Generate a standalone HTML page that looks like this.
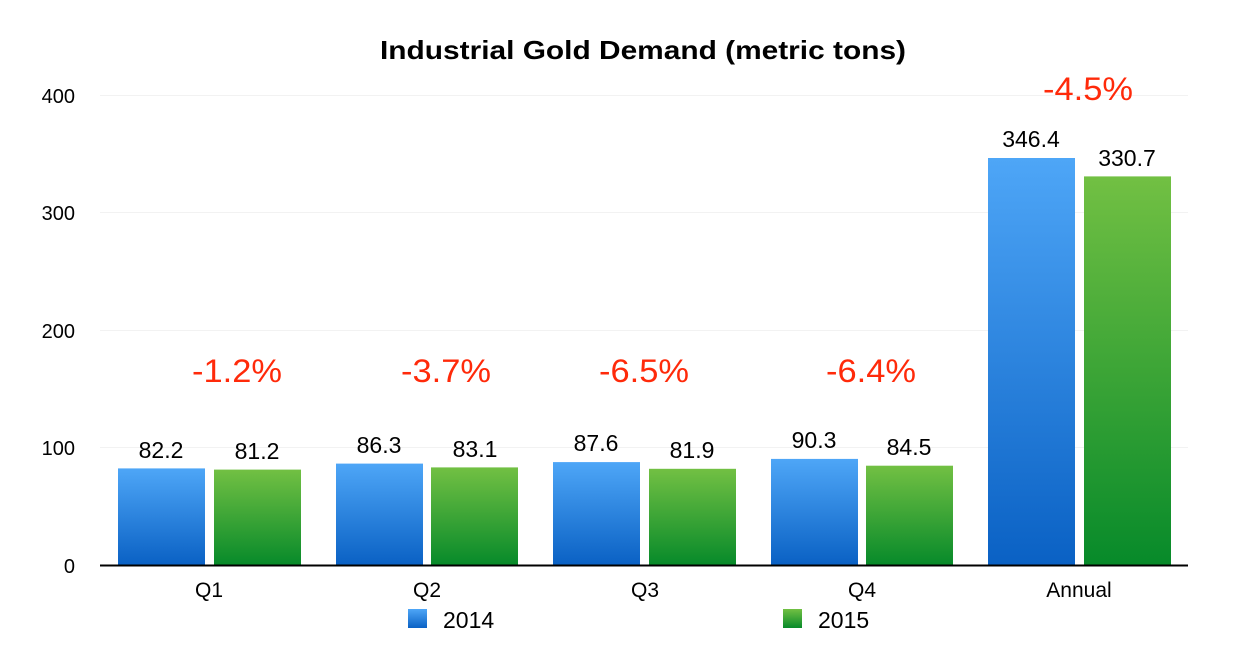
<!DOCTYPE html>
<html><head><meta charset="utf-8"><style>body{margin:0;background:#fff}</style></head><body>
<svg width="1240" height="650" viewBox="0 0 1240 650" xmlns="http://www.w3.org/2000/svg" font-family="Liberation Sans, sans-serif">
<defs>
<linearGradient id="b" x1="0" y1="0" x2="0" y2="1"><stop offset="0" stop-color="#4ea6f7"/><stop offset="1" stop-color="#0a61c4"/></linearGradient>
<linearGradient id="g" x1="0" y1="0" x2="0" y2="1"><stop offset="0" stop-color="#72c043"/><stop offset="1" stop-color="#078a2a"/></linearGradient>
</defs>
<text x="380" y="59" font-size="26" font-weight="bold" textLength="526" lengthAdjust="spacingAndGlyphs">Industrial Gold Demand (metric tons)</text>
<g stroke="#f2f2f2" stroke-width="1">
<line x1="100" x2="1188" y1="95.5" y2="95.5"/><line x1="100" x2="1188" y1="212.5" y2="212.5"/><line x1="100" x2="1188" y1="330.5" y2="330.5"/><line x1="100" x2="1188" y1="447.5" y2="447.5"/>
</g>
<g font-size="20" text-anchor="end">
<text x="75" y="103">400</text><text x="75" y="220">300</text><text x="75" y="338">200</text><text x="75" y="455">100</text><text x="75" y="573">0</text>
</g>
<g>
<rect x="118" y="468.4" width="87" height="96.6" fill="url(#b)"/>
<rect x="214" y="469.6" width="87" height="95.4" fill="url(#g)"/>
<rect x="336" y="463.6" width="87" height="101.4" fill="url(#b)"/>
<rect x="431" y="467.4" width="87" height="97.6" fill="url(#g)"/>
<rect x="553" y="462.1" width="87" height="102.9" fill="url(#b)"/>
<rect x="649" y="468.8" width="87" height="96.2" fill="url(#g)"/>
<rect x="771" y="458.9" width="87" height="106.1" fill="url(#b)"/>
<rect x="866" y="465.7" width="87" height="99.3" fill="url(#g)"/>
<rect x="988" y="158" width="87" height="407" fill="url(#b)"/>
<rect x="1084" y="176.4" width="87" height="388.6" fill="url(#g)"/>
</g>
<line x1="100" x2="1188" y1="565.5" y2="565.5" stroke="#000" stroke-width="2"/>
<g font-size="23" text-anchor="middle">
<text x="161" y="458">82.2</text><text x="257" y="459">81.2</text>
<text x="379" y="453">86.3</text><text x="475" y="457">83.1</text>
<text x="596" y="451">87.6</text><text x="692" y="458">81.9</text>
<text x="814" y="448">90.3</text><text x="909" y="455">84.5</text>
<text x="1031" y="147">346.4</text><text x="1127" y="166">330.7</text>
</g>
<g font-size="32" fill="#ff2a0a">
<text x="192" y="382" textLength="90" lengthAdjust="spacingAndGlyphs">-1.2%</text>
<text x="401" y="382" textLength="90" lengthAdjust="spacingAndGlyphs">-3.7%</text>
<text x="599" y="382" textLength="90" lengthAdjust="spacingAndGlyphs">-6.5%</text>
<text x="826" y="382" textLength="90" lengthAdjust="spacingAndGlyphs">-6.4%</text>
<text x="1043" y="100" textLength="90" lengthAdjust="spacingAndGlyphs">-4.5%</text>
</g>
<g font-size="21" text-anchor="middle">
<text x="209" y="597">Q1</text><text x="427" y="597">Q2</text><text x="645" y="597">Q3</text><text x="862" y="597">Q4</text><text x="1079" y="597">Annual</text>
</g>
<rect x="408" y="609" width="19" height="19" fill="url(#b)"/>
<text x="443" y="628" font-size="23">2014</text>
<rect x="783" y="609" width="19" height="19" fill="url(#g)"/>
<text x="818" y="628" font-size="23">2015</text>
</svg>
</body></html>
